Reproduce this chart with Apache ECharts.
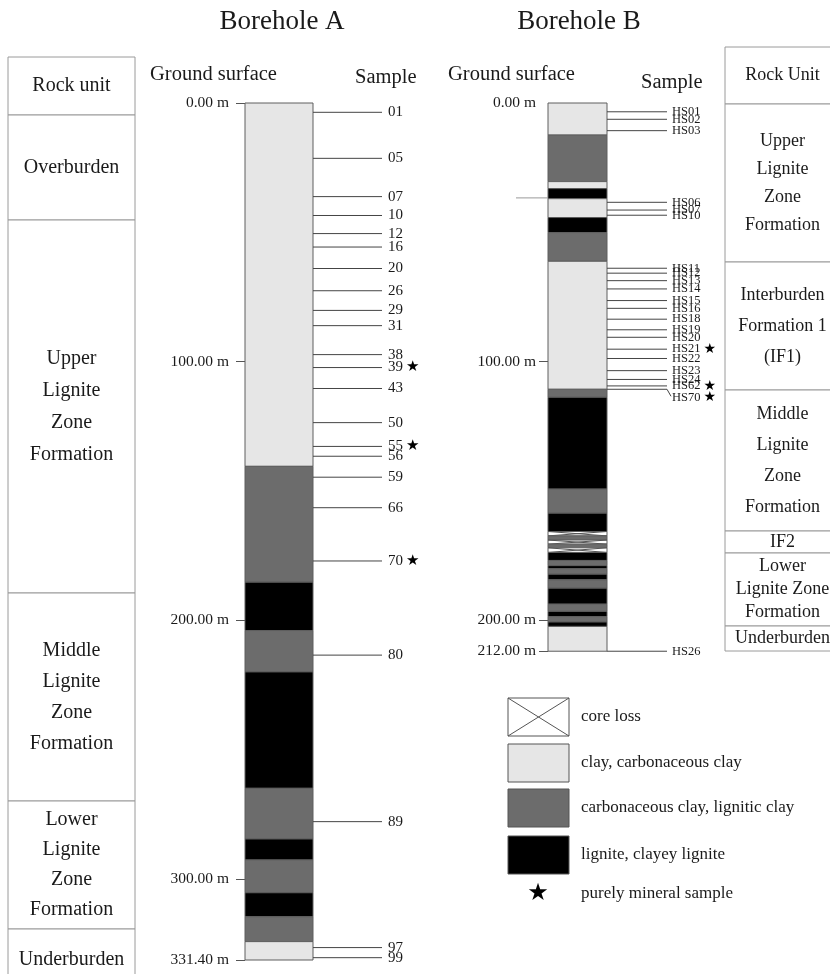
<!DOCTYPE html>
<html>
<head>
<meta charset="utf-8">
<script src="https://cdn.jsdelivr.net/npm/echarts@6/dist/echarts.min.js"></script>
<style>
  html, body { margin: 0; padding: 0; background: #fff; }
  #chart { width: 830px; height: 974px; }
</style>
</head>
<body>
<div id="chart"></div>
<script>
// ---- Borehole A ----
// Interval boundaries (m below ground surface) and the lithology of each interval
const aBoundaries = [0, 140.5, 185.3, 204, 220, 265, 284.6, 292.7, 305.4, 314.7, 324.3, 331.4];
const aLithology = ['clay', 'carb', 'lignite', 'carb', 'lignite', 'carb', 'lignite', 'carb', 'lignite', 'carb', 'clay'];
const aSampleIds = ['01', '05', '07', '10', '12', '16', '20', '26', '29', '31', '38', '39', '43', '50', '55', '56', '59', '66', '70', '80', '89', '97', '99'];
const aSampleDepths = [3.6, 21.4, 36.2, 43.5, 50.5, 55.7, 64.0, 72.6, 80.2, 86.1, 97.3, 102.3, 110.4, 123.6, 132.8, 136.6, 144.7, 156.5, 177.1, 213.5, 277.9, 326.6, 330.5];
const aMineralSamples = ['39', '55', '70'];
const aDepthTicks = [0, 100, 200, 300, 331.4];
const aRockUnits = ['Rock unit', 'Overburden', 'Upper\nLignite\nZone\nFormation', 'Middle\nLignite\nZone\nFormation', 'Lower\nLignite\nZone\nFormation', 'Underburden'];

// ---- Borehole B ----
const bBoundaries = [0, 12.4, 30.4, 33.1, 37.0, 44.3, 50.1, 61.2, 110.7, 113.8, 149.3, 158.6, 165.7,
  167.4, 169.0, 170.6, 172.0, 173.8,
  176.9, 178.9, 180.1, 182.2, 184.4, 187.6, 193.8, 196.6, 198.6, 200.7, 202.4, 212];
const bLithology = ['clay', 'carb', 'clay', 'lignite', 'clay', 'lignite', 'carb', 'clay', 'carb', 'lignite', 'carb', 'lignite',
  'coreloss', 'carb', 'coreloss', 'carb', 'coreloss',
  'lignite', 'carb', 'lignite', 'carb', 'lignite', 'carb', 'lignite', 'carb', 'lignite', 'carb', 'lignite', 'clay'];
const bSampleIds = ['HS01', 'HS02', 'HS03', 'HS06', 'HS07', 'HS10', 'HS11', 'HS12', 'HS13', 'HS14', 'HS15', 'HS16', 'HS18', 'HS19', 'HS20', 'HS21', 'HS22', 'HS23', 'HS24', 'HS62', 'HS70', 'HS26'];
const bSampleDepths = [3.4, 6.3, 10.7, 38.4, 41.4, 43.4, 63.9, 65.8, 68.7, 71.9, 76.4, 79.4, 83.6, 87.7, 90.6, 95.2, 98.8, 103.5, 106.9, 109.4, 110.7, 212];
const bMineralSamples = ['HS21', 'HS62', 'HS70'];
const bDepthTicks = [0, 100, 200, 212];
const bSideMarkDepths = [36.7];
const bRockUnits = ['Rock Unit', 'Upper\nLignite\nZone\nFormation', 'Interburden\nFormation 1\n(IF1)', 'Middle\nLignite\nZone\nFormation', 'IF2', 'Lower\nLignite Zone\nFormation', 'Underburden'];

// ---- Legend ----
const legendKeys = ['coreloss', 'clay', 'carb', 'lignite'];
const legendTexts = ['core loss', 'clay, carbonaceous clay', 'carbonaceous clay, lignitic clay', 'lignite, clayey lignite'];
const legendStarText = 'purely mineral sample';

// ---- Styling ----
const SERIF = "'Liberation Serif', 'Times New Roman', serif";
const FILL = { clay: '#e6e6e6', carb: '#6c6c6c', lignite: '#000000', coreloss: '#ffffff' };
const LAYER_STROKE = '#5e5e5e';

function layerRenderer(lith) {
  return function (params, api) {
    const kind = lith[params.dataIndex];
    const p0 = api.coord([0, api.value(0)]);
    const p1 = api.coord([1, api.value(1)]);
    const x = p0[0], y = p0[1], w = p1[0] - p0[0], h = p1[1] - p0[1];
    const children = [{
      type: 'rect', shape: { x, y, width: w, height: h },
      style: { fill: FILL[kind], stroke: LAYER_STROKE, lineWidth: 1 }
    }];
    if (kind === 'coreloss') {
      children.push({ type: 'line', shape: { x1: x, y1: y, x2: x + w, y2: y + h }, style: { stroke: '#555', lineWidth: 1 } });
      children.push({ type: 'line', shape: { x1: x, y1: y + h, x2: x + w, y2: y }, style: { stroke: '#555', lineWidth: 1 } });
    }
    return { type: 'group', children };
  };
}

function sampleRenderer(ids, mineral, opt) {
  return function (params, api) {
    const id = ids[params.dataIndex];
    const p = api.coord([1, api.value(0)]);
    const x0 = p[0], y = p[1];
    const x1 = x0 + opt.lineLen;
    const shift = (opt.shift && opt.shift[id]) || 0;
    const children = [];
    if (shift) {
      children.push({ type: 'polyline', shape: { points: [[x0, y], [x1, y], [x1 + 4, y + shift - 1]] }, style: { stroke: '#444', lineWidth: 1, fill: null } });
    } else {
      children.push({ type: 'line', shape: { x1: x0, y1: y, x2: x1, y2: y }, style: { stroke: '#444', lineWidth: 1 } });
    }
    const isMineral = mineral.indexOf(id) >= 0;
    children.push({
      type: 'text',
      style: {
        x: x1 + opt.gap, y: y + shift,
        text: isMineral ? '{t|' + id + '}{s|★}' : '{t|' + id + '}',
        verticalAlign: 'middle', align: 'left',
        rich: {
          t: { fontFamily: SERIF, fontSize: opt.fontSize, fill: '#1a1a1a' },
          s: { fontFamily: 'DejaVu Sans', fontSize: opt.starSize, fill: '#000', padding: [0, 0, 0, opt.starPad] }
        }
      }
    });
    return { type: 'group', children };
  };
}

function sideMarkRenderer(params, api) {
  const p = api.coord([0, api.value(0)]);
  return { type: 'line', shape: { x1: p[0] - 32, y1: p[1], x2: p[0], y2: p[1] }, style: { stroke: '#999', lineWidth: 1 } };
}

function intervals(bounds) {
  const out = [];
  for (let i = 0; i < bounds.length - 1; i++) out.push([bounds[i], bounds[i + 1]]);
  return out;
}

function depthAxis(gridIndex, ticks, tickValues, margin) {
  return {
    type: 'value', gridIndex, inverse: true, min: 0, max: 331.4,
    axisLine: { show: false },
    splitLine: { show: false },
    axisTick: { show: true, length: 9, customValues: tickValues, lineStyle: { color: '#555', width: 1 } },
    axisLabel: {
      customValues: ticks, margin,
      formatter: v => v.toFixed(2) + ' m',
      fontFamily: SERIF, fontSize: 15.5, color: '#1a1a1a'
    }
  };
}

// ---- Rock-unit tables and static text ----
function table(x0, x1, edges, names, fontSize, lineHeights) {
  const g = [];
  for (let i = 0; i < names.length; i++) {
    const top = edges[i], bot = edges[i + 1];
    g.push({ type: 'rect', shape: { x: x0, y: top, width: x1 - x0, height: bot - top },
      style: { fill: '#fff', stroke: '#9a9a9a', lineWidth: 1 } });
    g.push({ type: 'text', x: (x0 + x1) / 2, y: (top + bot) / 2,
      style: { text: names[i], align: 'center', verticalAlign: 'middle', fontFamily: SERIF,
        fontSize, lineHeight: lineHeights[i], fill: '#1a1a1a' } });
  }
  return g;
}

const graphics = [];
graphics.push(...table(8, 135, [57, 115, 220, 593, 801, 929, 990], aRockUnits, 20, [20, 20, 32, 31, 30, 20]));
graphics.push(...table(725, 840, [47, 104, 262, 390, 531, 553, 626, 651], bRockUnits, 18, [18, 28, 31, 31, 18, 23, 18]));

function text(x, y, t, size, align) {
  return { type: 'text', x, y, style: { text: t, fontFamily: SERIF, fontSize: size, fill: '#1a1a1a', align: align || 'left', verticalAlign: 'middle' } };
}
graphics.push(text(282, 22, 'Borehole A', 27, 'center'));
graphics.push(text(579, 22, 'Borehole B', 27, 'center'));
graphics.push(text(150, 75, 'Ground surface', 20.5));
graphics.push(text(355, 78, 'Sample', 20.5));
graphics.push(text(448, 75, 'Ground surface', 20.5));
graphics.push(text(641, 83, 'Sample', 20.5));

// Legend
const legendTops = [698, 744, 789, 836];
legendKeys.forEach((k, i) => {
  const x = 508, y = legendTops[i], w = 61, h = 38;
  graphics.push({ type: 'rect', shape: { x, y, width: w, height: h }, style: { fill: FILL[k], stroke: '#555', lineWidth: 1 } });
  if (k === 'coreloss') {
    graphics.push({ type: 'line', shape: { x1: x, y1: y, x2: x + w, y2: y + h }, style: { stroke: '#555', lineWidth: 1 } });
    graphics.push({ type: 'line', shape: { x1: x, y1: y + h, x2: x + w, y2: y }, style: { stroke: '#555', lineWidth: 1 } });
  }
  graphics.push(text(581, y + h / 2, legendTexts[i], 17));
});
graphics.push({ type: 'text', x: 538, y: 894, style: { text: '★', fontFamily: 'DejaVu Sans', fontSize: 24, fill: '#000', align: 'center', verticalAlign: 'middle' } });
graphics.push(text(581, 894, legendStarText, 17));

const chart = echarts.init(document.getElementById('chart'), null, { renderer: 'canvas' });
chart.setOption({
  backgroundColor: '#ffffff',
  animation: false,
  grid: [
    { left: 245, top: 103, width: 68, height: 857 },
    { left: 548, top: 103, width: 59, height: 857 }
  ],
  xAxis: [
    { type: 'value', gridIndex: 0, min: 0, max: 1, show: false },
    { type: 'value', gridIndex: 1, min: 0, max: 1, show: false }
  ],
  yAxis: [
    depthAxis(0, aDepthTicks, aDepthTicks, 16),
    depthAxis(1, bDepthTicks, bDepthTicks.filter(v => v !== 0), 12)
  ],
  graphic: graphics,
  series: [
    { type: 'custom', name: 'Borehole A lithology', xAxisIndex: 0, yAxisIndex: 0, clip: false,
      data: intervals(aBoundaries), renderItem: layerRenderer(aLithology) },
    { type: 'custom', name: 'Borehole A samples', xAxisIndex: 0, yAxisIndex: 0, clip: false,
      data: aSampleDepths.map(d => [d]),
      renderItem: sampleRenderer(aSampleIds, aMineralSamples, { lineLen: 69, gap: 6, fontSize: 15, starSize: 15, starPad: 3 }) },
    { type: 'custom', name: 'Borehole B lithology', xAxisIndex: 1, yAxisIndex: 1, clip: false,
      data: intervals(bBoundaries), renderItem: layerRenderer(bLithology) },
    { type: 'custom', name: 'Borehole B samples', xAxisIndex: 1, yAxisIndex: 1, clip: false,
      data: bSampleDepths.map(d => [d]),
      renderItem: sampleRenderer(bSampleIds, bMineralSamples, { lineLen: 60, gap: 5, fontSize: 12.5, starSize: 14, starPad: 3, shift: { HS70: 8 } }) },
    { type: 'custom', name: 'Borehole B side mark', xAxisIndex: 1, yAxisIndex: 1, clip: false,
      data: bSideMarkDepths.map(d => [d]), renderItem: sideMarkRenderer }
  ]
});
</script>
</body>
</html>
